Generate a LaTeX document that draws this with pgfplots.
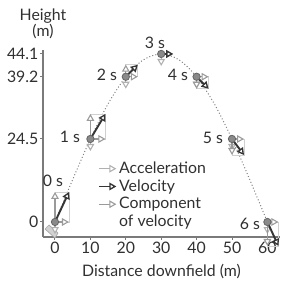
\documentclass[border=0pt]{standalone}
\usepackage{fontspec}
\setmainfont{Lato}
\usepackage{pgfplots}
\pgfplotsset{compat=1.18}
\usetikzlibrary{arrows.meta}
\definecolor{txt}{HTML}{303030}
\definecolor{velc}{HTML}{353535}
\definecolor{compc}{HTML}{9A9A9A}
\definecolor{accc}{HTML}{B0B0B0}
\definecolor{boxc}{HTML}{D0D0D0}
\definecolor{axc}{HTML}{7A7A7A}
\definecolor{ballc}{HTML}{8A8A8A}
\tikzset{
  velarrow/.style={draw=velc, line width=1.15pt, -{Triangle[fill=white, length=4.2pt, width=4.6pt, line width=0.8pt]}},
  comparrow/.style={draw=compc, line width=0.8pt, -{Triangle[fill=white, length=4.2pt, width=4.6pt, line width=0.65pt]}},
  accarrow/.style={draw=accc, line width=0.8pt, -{Triangle[fill=white, length=4.2pt, width=4.6pt, line width=0.65pt]}},
  boxline/.style={draw=boxc, line width=0.45pt},
}
\begin{document}
\begin{tikzpicture}
\begin{axis}[
  scale only axis, width=142.2pt, height=112.2pt,
  xmin=-3.39, xmax=63.56, ymin=-5.47, ymax=44.93,
  y coord trafo/.code={\pgfmathparse{2.861*(#1)+0.02152*(#1)*(#1)}},
  axis lines=left,
  axis line style={-, draw=axc, line width=0.9pt},
  xtick={0,10,20,30,40,50,60}, xticklabels={0,10,20,30,40,50,60},
  ytick={0,24.5,39.2,44.1}, yticklabels={0,24.5,39.2,44.1},
  tick align=outside, major tick length=1.6pt,
  tick style={draw=axc, line width=0.6pt},
  ticklabel style={font=\fontsize{9.5}{10}\selectfont, text=txt},
  xticklabel style={inner sep=1pt},
  yticklabel style={inner sep=1pt},
  clip=false,
  xlabel={Distance downfield (m)},
  xlabel style={at={(axis description cs:0.5,0)}, anchor=north, inner sep=0pt, yshift=-16pt, font=\fontsize{9.5}{10}\selectfont, text=txt},
  ylabel={Height\\(m)},
  ylabel style={at={(axis description cs:0,1)}, rotate=-90, anchor=south, align=center, inner sep=0pt, yshift=6.3pt, font=\fontsize{9.5}{8.8}\selectfont, text=txt},
  legend style={draw=none, fill=none, at={(axis description cs:0.232,0.415)}, anchor=north west,
    font=\fontsize{9.5}{10}\selectfont, text=txt, inner sep=0pt, row sep=0pt,
    nodes={inner sep=1.1pt}},
  legend cell align=left,
]
\coordinate (bl) at (rel axis cs:0,0);
\coordinate (tr) at (rel axis cs:1,1);

\addlegendimage{legend image code/.code={\draw[accarrow] (0cm,0cm) -- (0.36cm,0cm);}}
\addlegendentry{Acceleration}
\addlegendimage{legend image code/.code={\draw[velarrow] (0cm,0cm) -- (0.36cm,0cm);}}
\addlegendentry{Velocity}
\addlegendimage{legend image code/.code={\draw[comparrow] (0cm,0cm) -- (0.36cm,0cm);}}
\addlegendentry{Component}
\addlegendimage{empty legend}
\addlegendentry{of velocity}

% trajectory
\addplot[forget plot, gray, line width=0.6pt, dash pattern=on 0.6pt off 1.3pt, smooth] coordinates {
(0,0) (5,13.475) (10,24.5) (15,33.075) (20,39.2) (25,42.875) (30,44.1)
(35,42.875) (40,39.2) (45,33.075) (50,24.5) (55,13.475) (60,0)};

% launcher at the start
\addplot[forget plot, fill=gray!35, draw=gray!70, line width=0.4pt] coordinates {
(-2.82,-2.50) (-1.69,-1.06) (0.85,-3.96) (0,-5.85) (-2.82,-2.50)};

% component boxes
\addplot[forget plot, boxline] coordinates {(0,0) (3.95,0) (3.95,9.77) (0,9.77) (0,0)};
\addplot[forget plot, boxline] coordinates {(10,24.5) (14.24,24.5) (14.24,30.68) (10,30.68) (10,24.5)};
\addplot[forget plot, boxline] coordinates {(20,39.2) (23.39,39.2) (23.39,41.81) (20,41.81) (20,39.2)};
\addplot[forget plot, boxline] coordinates {(40,39.2) (43.39,39.2) (43.39,36.53) (40,36.53) (40,39.2)};
\addplot[forget plot, boxline] coordinates {(50,24.5) (53.39,24.5) (53.39,20.32) (50,20.32) (50,24.5)};
\addplot[forget plot, boxline] coordinates {(60,0) (63.11,0) (63.11,-9.0) (60,-9.0) (60,0)};

% acceleration
\addplot[forget plot, accarrow] coordinates {(0,0) (0,-4.34)};
\addplot[forget plot, accarrow] coordinates {(10,24.5) (10,21.38)};
\addplot[forget plot, accarrow] coordinates {(20,39.2) (20,36.53)};
\addplot[forget plot, accarrow] coordinates {(30,44.1) (30,41.55)};
\addplot[forget plot, accarrow] coordinates {(40,39.2) (40,36.53)};
\addplot[forget plot, accarrow] coordinates {(50,24.5) (50,21.38)};
\addplot[forget plot, accarrow] coordinates {(60,0) (60,-4.34)};

% components
\addplot[forget plot, comparrow] coordinates {(0,0) (3.95,0)};
\addplot[forget plot, comparrow] coordinates {(0,0) (0,9.77)};
\addplot[forget plot, comparrow] coordinates {(10,24.5) (14.24,24.5)};
\addplot[forget plot, comparrow] coordinates {(10,24.5) (10,30.68)};
\addplot[forget plot, comparrow] coordinates {(20,39.2) (23.39,39.2)};
\addplot[forget plot, comparrow] coordinates {(20,39.2) (20,41.81)};
\addplot[forget plot, comparrow] coordinates {(30,44.1) (33.39,44.1)};
\addplot[forget plot, comparrow] coordinates {(40,39.2) (43.39,39.2)};
\addplot[forget plot, comparrow] coordinates {(40,39.2) (40,36.53)};
\addplot[forget plot, comparrow] coordinates {(50,24.5) (53.39,24.5)};
\addplot[forget plot, comparrow] coordinates {(50,24.5) (50,20.32)};
\addplot[forget plot, comparrow] coordinates {(60,0) (63.11,0)};
\addplot[forget plot, comparrow] coordinates {(60,0) (60,-9.0)};

% velocity
\addplot[forget plot, velarrow] coordinates {(0,0) (3.95,9.77)};
\addplot[forget plot, velarrow] coordinates {(10,24.5) (14.24,30.68)};
\addplot[forget plot, velarrow] coordinates {(20,39.2) (23.39,41.81)};
\addplot[forget plot, velarrow] coordinates {(30,44.1) (33.39,44.1)};
\addplot[forget plot, velarrow] coordinates {(40,39.2) (43.39,36.53)};
\addplot[forget plot, velarrow] coordinates {(50,24.5) (53.39,20.32)};
\addplot[forget plot, velarrow] coordinates {(60,0) (63.11,-9.0)};

% balls
\addplot[forget plot, only marks, mark=*, mark size=2.2pt,
  mark options={fill=ballc, draw=black!60, line width=0.5pt}] coordinates {
(0,0) (10,24.5) (20,39.2) (30,44.1) (40,39.2) (50,24.5) (60,0)};

% time labels
\addplot[forget plot, only marks, mark=none, nodes near coords, point meta=explicit symbolic,
  nodes near coords style={anchor=center, inner sep=0pt, font=\fontsize{9.5}{10}\selectfont, text=txt}]
  coordinates {
(-0.56,13.05) [0 s] (4.24,25.0) [1 s] (14.69,39.59) [2 s] (28.25,46.38) [3 s]
(34.75,39.59) [4 s] (44.63,24.75) [5 s] (55.08,-0.70) [6 s]};
\end{axis}
\pgfresetboundingbox
\path ([shift={(-25.8pt,-26.4pt)}]bl) rectangle ([shift={(3.6pt,30pt)}]tr);
\end{tikzpicture}
\end{document}
